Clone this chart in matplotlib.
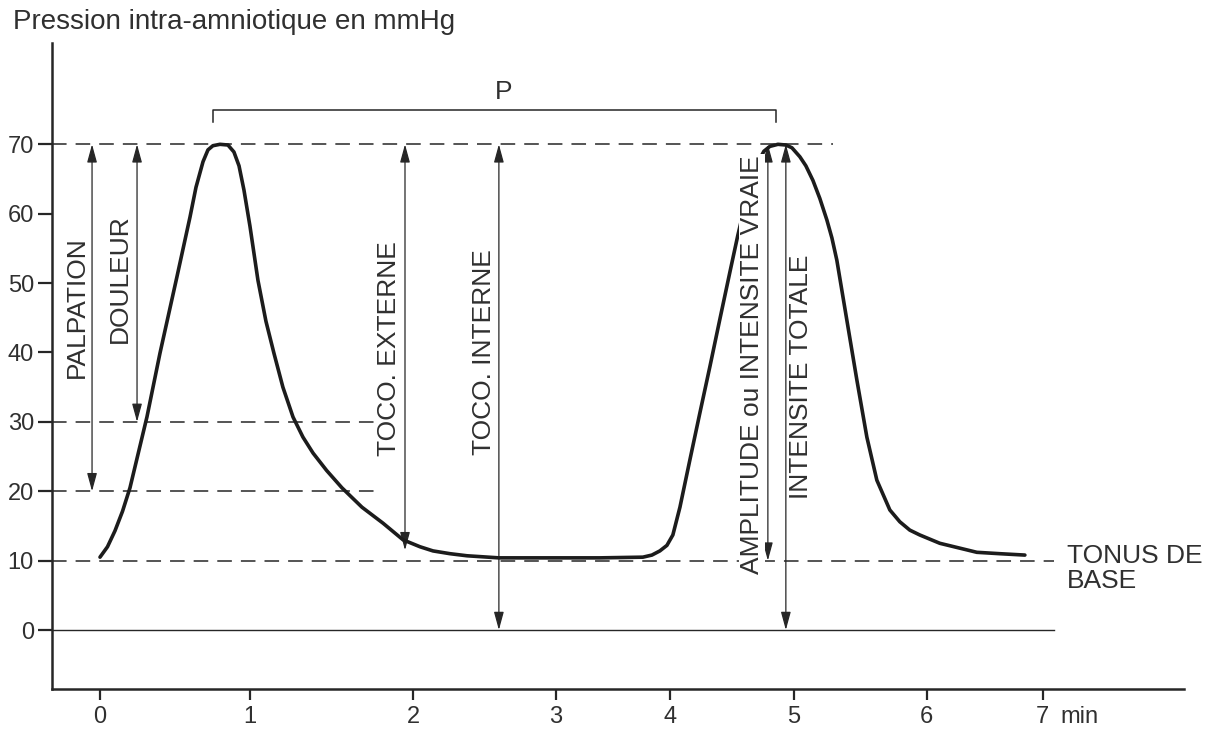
import numpy as np
import matplotlib
matplotlib.use("Agg")
import matplotlib.pyplot as plt

plt.rcParams['font.family'] = ['Liberation Sans', 'DejaVu Sans']
plt.rcParams['lines.scale_dashes'] = False

# ---------------- data ----------------
time_ticks = [0, 1, 2, 3, 4, 5, 6, 7]
# drawn location of each minute tick on the (hand-drawn, uneven) time axis
time_tick_pos = [0.0, 1.0, 2.087, 3.04, 3.8, 4.627, 5.513, 6.287]
pressure_ticks = [0, 10, 20, 30, 40, 50, 60, 70]

# intra-amniotic pressure curve (min, mmHg)
curve_t = [0.0, 0.05, 0.1, 0.15, 0.2, 0.313, 0.4, 0.513, 0.6, 0.64, 0.687, 0.72,
           0.753, 0.8, 0.853, 0.893, 0.927, 0.96, 1.0, 1.049, 1.098, 1.147,
           1.202, 1.264, 1.325, 1.387, 1.47, 1.564, 1.687, 1.816, 1.939,
           2.049, 2.14, 2.259, 2.378, 2.601, 2.958, 3.386, 3.763, 3.842,
           3.912, 3.974, 4.024, 4.081, 4.161, 4.242, 4.323, 4.403, 4.484,
           4.548, 4.605, 4.661, 4.71, 4.758, 4.806, 4.871, 4.935, 4.984,
           5.045, 5.09, 5.143, 5.195, 5.248, 5.286, 5.323, 5.398, 5.474,
           5.549, 5.624, 5.722, 5.797, 5.872, 5.947, 6.112, 6.284, 6.431,
           6.629, 6.845]
curve_p = [10.5, 12.0, 14.3, 17.1, 20.5, 30.7, 39.9, 50.9, 59.5, 63.8, 67.5, 69.2,
           69.8, 70.0, 69.9, 68.9, 66.9, 63.4, 58.2, 50.4, 44.5, 39.9,
           35.0, 30.7, 27.8, 25.5, 23.0, 20.5, 17.7, 15.4, 13.0,
           12.0, 11.4, 11.0, 10.7, 10.4, 10.4, 10.4, 10.5, 10.8,
           11.4, 12.2, 13.7, 17.7, 24.5, 31.3, 38.0, 44.8, 51.6,
           56.9, 61.2, 64.8, 67.4, 69.0, 69.7, 70.0, 69.9, 69.5,
           68.2, 66.9, 64.8, 62.2, 59.1, 56.5, 53.3, 44.7, 36.0,
           27.8, 21.6, 17.3, 15.6, 14.4, 13.7, 12.5, 11.8, 11.2,
           11.0, 10.8]

# dashed reference levels (mmHg) and where each one ends (min)
level_values = [70, 30, 20, 10]
level_ends = [5.293, 1.767, 1.798, 7.10]
zero_end = 7.10

# measurement arrows
arrow_names = ["PALPATION", "DOULEUR", "TOCO. EXTERNE", "TOCO. INTERNE",
               "AMPLITUDE ou INTENSITE VRAIE", "INTENSITE TOTALE"]
arrow_t = [-0.053, 0.247, 1.951, 2.601, 4.790, 4.935]
arrow_top = [70, 70, 70, 70, 70, 70]
arrow_bottom = [20, 30, 11.5, 0, 10, 0]
label_t = [-0.153, 0.133, 1.853, 2.497, 4.661, 5.053]
label_p = [46.5, 50.7, 40.6, 40.1, 38.3, 36.5]

# period bracket "P"
period_start, period_end = 0.753, 4.855
period_level = 74.9

# ---------------- figure ----------------
fig = plt.figure(figsize=(12.25, 7.31), dpi=100)
ax = fig.add_axes([0.04245, 0.05746, 0.9241, 0.8837])

T = np.array(time_ticks, float)
Pp = np.array(time_tick_pos, float)
s0 = (Pp[1] - Pp[0]) / (T[1] - T[0])
s1 = (Pp[-1] - Pp[-2]) / (T[-1] - T[-2])


def fwd(t):
    t = np.asarray(t, float)
    out = np.interp(t, T, Pp)
    out = np.where(t < T[0], Pp[0] + (t - T[0]) * s0, out)
    out = np.where(t > T[-1], Pp[-1] + (t - T[-1]) * s1, out)
    return out


def inv(p):
    p = np.asarray(p, float)
    out = np.interp(p, Pp, T)
    out = np.where(p < Pp[0], T[0] + (p - Pp[0]) / s0, out)
    out = np.where(p > Pp[-1], T[-1] + (p - Pp[-1]) / s1, out)
    return out


ax.set_xscale('function', functions=(fwd, inv))
ax.set_xlim(-0.32, 8.216)
ax.set_ylim(-8.5, 84.6)

ink = '#262626'
txt = '#303030'

for s in ['top', 'right']:
    ax.spines[s].set_visible(False)
for s in ['left', 'bottom']:
    ax.spines[s].set_linewidth(1.8)
    ax.spines[s].set_color(ink)

ax.set_xticks(time_ticks)
ax.set_xticklabels([str(v) for v in time_ticks])
ax.set_yticks(pressure_ticks)
ax.set_yticklabels([str(v) for v in pressure_ticks])
ax.tick_params(axis='x', direction='out', length=8, width=1.6, pad=4,
               labelsize=17, colors=ink, labelcolor=txt)
ax.tick_params(axis='y', direction='out', length=10, width=1.6, pad=3,
               labelsize=17, colors=ink, labelcolor=txt)
ax.minorticks_off()

ax.annotate('min', xy=(7, 0), xycoords=('data', 'axes fraction'),
            xytext=(12.5, -12), textcoords='offset points',
            ha='left', va='top', fontsize=17, color=txt)

# reference levels
for v, e in zip(level_values, level_ends):
    ax.plot([-0.32, e], [v, v], color=ink, lw=1.1,
            linestyle=(0, (10.5, 6.5)), zorder=1)
ax.plot([-0.32, zero_end], [0, 0], color=ink, lw=1.0, zorder=1)

# curve
ax.plot(curve_t, curve_p, color='#1c1c1c', lw=2.6, solid_capstyle='round',
        solid_joinstyle='round', zorder=3)

# arrows
for x, top, bot in zip(arrow_t, arrow_top, arrow_bottom):
    ax.annotate('', xy=(x, bot), xytext=(x, top),
                arrowprops=dict(arrowstyle='<|-|>,head_length=1.1,head_width=0.3',
                                mutation_scale=10, lw=0.9, color=ink,
                                shrinkA=0, shrinkB=0),
                zorder=2)

for name, x, y in zip(arrow_names, label_t, label_p):
    ax.text(x, y, name, rotation=90, ha='center', va='center',
            fontsize=19, color=txt, zorder=4,
            bbox=dict(facecolor='white', edgecolor='none', pad=0.5))

# period bracket
ax.plot([period_start, period_start, period_end, period_end],
        [period_level - 1.7, period_level, period_level, period_level - 1.7],
        color=ink, lw=1.1, zorder=2)
ax.text((period_start + period_end) / 2 - 0.17, 77.5, 'P', ha='center',
        va='center', fontsize=19, color=txt)

ax.text(7.207, 8.9, 'TONUS DE\nBASE', ha='left', va='center', fontsize=19,
        color=txt, linespacing=1.06)

fig.text(13 / 1225, 1 - 22 / 731, 'Pression intra-amniotique en mmHg',
         ha='left', va='center', fontsize=20, color=txt)

fig.savefig('out.png', dpi=100, facecolor='white')
